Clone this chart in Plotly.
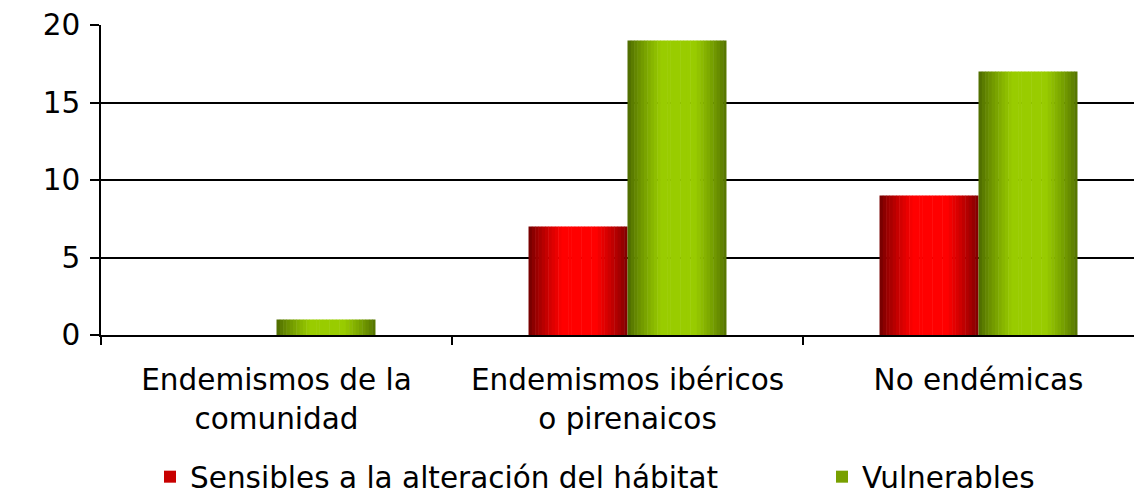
import plotly.graph_objects as go

# ---- data ----
categories = ["Endemismos de la<br>comunidad",
              "Endemismos ibéricos<br>o pirenaicos",
              "No endémicas"]
sensibles = [0, 7, 9]
vulnerables = [1, 19, 17]
series_names = ["Sensibles a la alteración del hábitat", "Vulnerables"]
y_ticks = [0, 5, 10, 15, 20]

# ---- style ----
BAR_W = 0.282      # width of one bar in category units
N = 30             # strips used to imitate the cylinder shading


def shade(dark, bright, t):
    d = abs(t - 0.51)
    if d < 0.17:
        s = 1.0
    else:
        s = max(0.0, 1 - (d - 0.17) / 0.34)
    s = s ** 0.8
    return "rgb(%d,%d,%d)" % tuple(round(dk + (b - dk) * s) for dk, b in zip(dark, bright))


series = [
    (sensibles, (108, 0, 0), (255, 0, 0), -BAR_W, "legend", "rgb(200,0,0)"),
    (vulnerables, (74, 102, 0), (153, 204, 0), 0.0, "legend2", "rgb(120,160,0)"),
]

fig = go.Figure()
for k, (vals, dark, bright, start, leg, legcol) in enumerate(series):
    w = BAR_W / N
    for i in range(N):
        t = (i + 0.5) / N
        fig.add_trace(go.Bar(
            x=categories, y=vals,
            offset=start + i * w,
            width=w * 1.15 if i < N - 1 else w,
            marker=dict(color=shade(dark, bright, t), line=dict(width=0)),
            name=series_names[k], legendgroup=series_names[k],
            showlegend=False, hoverinfo="skip",
        ))
    # legend entry (no visible bars)
    fig.add_trace(go.Bar(
        x=categories, y=[None] * len(categories),
        marker=dict(color=legcol, line=dict(width=0)),
        name=series_names[k], legendgroup=series_names[k],
        showlegend=True, legend=leg, hoverinfo="skip",
    ))

legend_common = dict(orientation="h", xref="container", yref="container",
                     xanchor="left", y=1 - 477 / 497, yanchor="middle",
                     font=dict(size=29.5), bgcolor="rgba(0,0,0,0)")

fig.update_layout(
    width=1134, height=497,
    margin=dict(l=101, r=0, t=25, b=162, autoexpand=False),
    paper_bgcolor="white", plot_bgcolor="white",
    barmode="overlay",
    font=dict(family="DejaVu Sans", size=29.5, color="black"),
    showlegend=True,
    legend=dict(x=150 / 1134, **legend_common),
    legend2=dict(x=822 / 1134, **legend_common),
    xaxis=dict(type="category", range=[-0.5, 2.443], tickson="boundaries",
               ticks="outside", ticklen=8, tickcolor="black", tickwidth=1.5,
               showline=True, linecolor="black", linewidth=1.5,
               showgrid=False, zeroline=False, automargin=False,
               ticklabelstandoff=18),
    yaxis=dict(range=[0, 20], tickvals=y_ticks, ticks="outside", ticklen=9,
               tickcolor="black", tickwidth=1.5,
               showline=True, linecolor="black", linewidth=1.5,
               showgrid=True, gridcolor="black", gridwidth=1.5,
               zeroline=False, ticklabelstandoff=4, automargin=False),
)

fig.write_html(
    "out.html",
    config={"displayModeBar": False},
    post_script="document.body.style.margin='0';document.body.style.overflow='hidden';",
)
